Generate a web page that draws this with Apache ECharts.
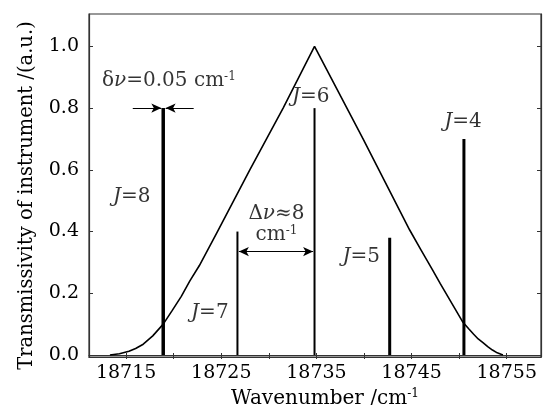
<!DOCTYPE html>
<html>
<head>
<meta charset="utf-8">
<script src="https://cdn.jsdelivr.net/npm/echarts@6/dist/echarts.min.js"></script>
<style>
html,body{margin:0;padding:0;background:#fff;}
#c{width:547px;height:405px;}
</style>
</head>
<body>
<div id="c"></div>
<script>
// Instrument transmissivity curve
const curveX = [18713.3, 18714.3, 18715.3, 18716.0, 18716.8, 18717.8, 18718.9, 18719.8, 18720.8, 18721.7, 18722.7, 18724.6, 18728.0, 18731.5, 18734.8, 18739.9, 18744.8, 18746.0, 18747.2, 18748.0, 18748.8, 18749.6, 18750.4, 18751.0, 18751.5, 18752.0, 18752.5, 18753.0, 18753.5, 18754.0, 18754.6];
const curveY = [0.000, 0.004, 0.012, 0.021, 0.035, 0.062, 0.100, 0.142, 0.190, 0.240, 0.290, 0.400, 0.600, 0.800, 1.000, 0.700, 0.405, 0.340, 0.276, 0.232, 0.190, 0.148, 0.106, 0.085, 0.068, 0.052, 0.040, 0.027, 0.016, 0.007, 0.000];
// Rotational lines
const lineJ = ['8', '7', '6', '5', '4'];
const lineX = [18718.9, 18726.7, 18734.8, 18742.7, 18750.5];
const lineY = [0.80, 0.40, 0.80, 0.38, 0.70];
const lineW = [3.5, 2, 2, 3, 3];
// Label anchor positions (data coords)
const jLabelX = [18715.6, 18723.8, 18734.4, 18739.7, 18750.4];
const jLabelY = [0.513, 0.136, 0.837, 0.318, 0.756];
// Ticks
const xTickLabels = [18715, 18725, 18735, 18745, 18755];
const xMinorTicks = [18715, 18720, 18725, 18730, 18735, 18740, 18745, 18750, 18755];
const yTickLabels = [0.0, 0.2, 0.4, 0.6, 0.8, 1.0];
// Annotations
const deltaNuSmall = 0.05;
const deltaNuBig = 8;

const FONT = 'DejaVu Serif';
const chart = echarts.init(document.getElementById('c'));

const series = [];
series.push({
  type: 'line',
  data: curveX.map((x, i) => [x, curveY[i]]),
  showSymbol: false,
  smooth: false,
  lineStyle: { color: '#000', width: 1.6 },
  z: 3
});
lineX.forEach((x, i) => {
  series.push({
    type: 'line',
    data: [[x, 0], [x, lineY[i]]],
    showSymbol: false,
    lineStyle: { color: '#000', width: lineW[i] },
    z: 4
  });
});
// Arrows
series.push({
  type: 'line',
  data: [],
  markLine: {
    silent: true,
    symbol: ['none', 'arrow'],
    symbolSize: [7, 10],
    label: { show: false },
    lineStyle: { color: '#000', width: 1, type: 'solid' },
    data: [
      [{ coord: [18715.7, 0.80] }, { coord: [lineX[0] - 0.2, 0.80] }],
      [{ coord: [18722.1, 0.80] }, { coord: [lineX[0] + 0.25, 0.80] }],
      [{ coord: [lineX[1] + 0.15, 0.335], symbol: 'arrow' }, { coord: [lineX[2] - 0.15, 0.335] }]
    ]
  }
});
// Text labels
const rich = {
  i: { fontFamily: FONT, fontStyle: 'italic', fontSize: 20, color: '#000' },
  n: { fontFamily: FONT, fontSize: 20, color: '#000' },
  s: { fontFamily: FONT, fontSize: 12, color: '#000', padding: [0, 0, 9, 0] }
};
const textData = jLabelX.map((x, i) => ({ value: [x, jLabelY[i]], txt: '{i|J}{n|=' + lineJ[i] + '}' }));
textData.push({ value: [18719.5, 0.888], txt: '{n|δ}{i|ν}{n|=' + deltaNuSmall.toFixed(2) + ' cm}{s|-1}' });
textData.push({ value: [18730.8, 0.459], txt: '{n|Δ}{i|ν}{n|≈' + deltaNuBig + '}' });
textData.push({ value: [18730.8, 0.389], txt: '{n|cm}{s|-1}' });
series.push({
  type: 'scatter',
  symbolSize: 0,
  silent: true,
  data: textData.map(d => ({
    value: d.value,
    label: { show: true, position: 'inside', formatter: d.txt, rich: rich }
  })),
  z: 5
});

chart.setOption({
  animation: false,
  backgroundColor: '#fff',
  grid: { left: 89, right: 6, top: 14, bottom: 48, containLabel: false, outerBoundsMode: 'none', show: true, borderColor: '#333', borderWidth: 1.2 },
  xAxis: [{
    type: 'value', min: 18711.1, max: 18758.6,
    axisLine: { show: true, onZero: false, lineStyle: { color: '#333', width: 1.2 } },
    axisTick: { show: true, inside: true, length: 4, customValues: xMinorTicks, lineStyle: { color: '#333' } },
    axisLabel: { customValues: xTickLabels, fontFamily: FONT, fontSize: 19, color: '#000', margin: 7, formatter: v => String(v) },
    splitLine: { show: false },
    name: '{n|Wavenumber /cm}{s|-1}',
    nameLocation: 'middle', nameGap: 25,
    nameTextStyle: { rich: rich, padding: [0, 0, 0, 20] }
  }, {
    type: 'value', position: 'top', min: 18711.1, max: 18758.6,
    axisLine: { show: true, lineStyle: { color: '#333', width: 1.2 } },
    axisTick: { show: true, inside: true, length: 4, customValues: xMinorTicks, lineStyle: { color: '#333' } },
    axisLabel: { show: false }, splitLine: { show: false }
  }],
  yAxis: [{
    type: 'value', min: -0.0065, max: 1.105,
    axisLine: { show: true, onZero: false, lineStyle: { color: '#333', width: 1.2 } },
    axisTick: { show: true, inside: true, length: 4, customValues: yTickLabels, lineStyle: { color: '#333' } },
    axisLabel: { customValues: yTickLabels, fontFamily: FONT, fontSize: 19, color: '#000', margin: 10, formatter: v => v.toFixed(1) },
    splitLine: { show: false },
    name: 'Transmissivity of instrument /(a.u.)',
    nameLocation: 'middle', nameGap: 52,
    nameTextStyle: { fontFamily: FONT, fontSize: 19.5, color: '#000', padding: [0, 20, 0, 0] }
  }, {
    type: 'value', position: 'right', min: -0.0065, max: 1.105,
    axisLine: { show: true, lineStyle: { color: '#333', width: 1.2 } },
    axisTick: { show: true, inside: true, length: 4, customValues: yTickLabels, lineStyle: { color: '#333' } },
    axisLabel: { show: false }, splitLine: { show: false }
  }],
  series: series
});
</script>
</body>
</html>
